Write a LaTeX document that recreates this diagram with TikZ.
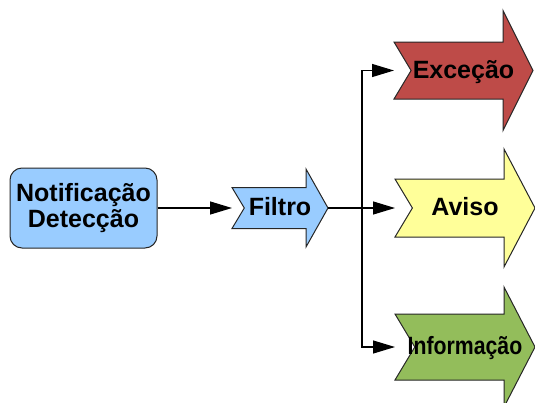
\documentclass[tikz,border=0pt]{standalone}
\usepackage{fontspec}
\setmainfont{Liberation Sans}
\usetikzlibrary{arrows.meta}

\definecolor{azul}{HTML}{99CCFF}
\definecolor{vermelho}{HTML}{BE4B48}
\definecolor{amarelo}{HTML}{FFFF99}
\definecolor{verde}{HTML}{93BD5B}

\tikzset{
	seta/.style={draw=black!85, line width=1pt, line join=miter},
	rotulo/.style={anchor=base, inner sep=0pt, font=\fontsize{25}{25.5}\selectfont\bfseries},
	linha/.style={line width=1.2pt},
	conector/.style={linha, -{Triangle[length=22pt,width=13pt]}}
}

% seta de bloco: nome, cor, x cauda, x cabeca, x ponta, y, meia altura corpo, meia altura cabeca, texto
\newcommand{\pseta}[9]{
	\pgfmathsetmacro{\PSya}{#6-#7}
	\pgfmathsetmacro{\PSyb}{#6+#7}
	\pgfmathsetmacro{\PSha}{#6-#8}
	\pgfmathsetmacro{\PShb}{#6+#8}
	\pgfmathsetmacro{\PSxn}{#3+0.6*#7}
	\pgfmathsetmacro{\PSxm}{0.5*#3+0.5*#5}
	\pgfmathsetmacro{\PSyt}{#6+7.5}
	\draw[seta, fill=#2] (#3,\PSya) -- (#4,\PSya) -- (#4,\PSha) -- (#5,#6) -- (#4,\PShb) -- (#4,\PSyb) -- (#3,\PSyb) -- (\PSxn,#6) -- cycle;
	\coordinate (#1-in) at (#3,#6);
	\coordinate (#1-out) at (#5,#6);
	\node[rotulo] (#1) at (\PSxm,\PSyt) {#9};
}

\begin{document}
\begin{tikzpicture}[x=1pt, y=-1pt]
\useasboundingbox (0,0) rectangle (535,402);

\node[seta, fill=azul, rounded corners=12pt, minimum width=147pt, minimum height=80pt,
	align=center, font=\fontsize{25}{25.5}\selectfont\bfseries] (notif) at (83.5,208) {Notificação\\Detecção};

\pseta{filtro}{azul}{232}{306}{328}{208}{20.5}{39}{Filtro}
\pseta{excecao}{vermelho}{394}{503}{533}{70.5}{28.5}{60}{Exceção}
\pseta{aviso}{amarelo}{395}{504}{535}{208}{29}{59}{Aviso}
\pseta{info}{verde}{395}{504}{535}{347}{33}{60}{\scalebox{0.85}[1]{Informação}} %mais estreito

\coordinate (ramo) at (362,208);

\draw[conector] (notif.east) -- (filtro-in);
\draw[linha] (filtro-out) -- (ramo);
\draw[conector] (ramo) |- (excecao-in);
\draw[conector] (ramo) -- (aviso-in);
\draw[conector] (ramo) |- (info-in);
\end{tikzpicture}
\end{document}
